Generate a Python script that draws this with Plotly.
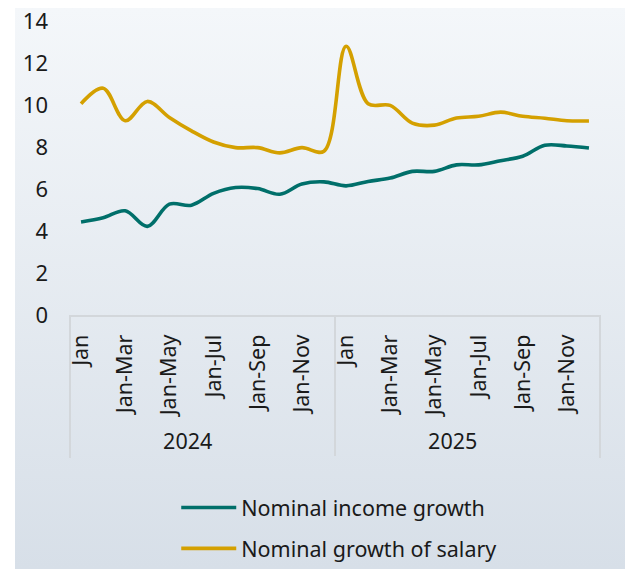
import base64
import plotly.graph_objects as go

# Cumulative periods within each year
years = ["2024", "2025"]
periods = ["Jan", "Jan-Feb", "Jan-Mar", "Jan-Apr", "Jan-May", "Jan-Jun",
           "Jan-Jul", "Jan-Aug", "Jan-Sep", "Jan-Oct", "Jan-Nov", "Jan-Dec"]

# Year-on-year growth, %
income_growth = [4.43, 4.63, 4.96, 4.22, 5.28, 5.23, 5.79, 6.07, 6.02, 5.75, 6.24, 6.34,
                 6.15, 6.36, 6.52, 6.84, 6.84, 7.15, 7.15, 7.35, 7.56, 8.08, 8.05, 7.95]
salary_growth = [10.06, 10.8, 9.25, 10.17, 9.41, 8.77, 8.24, 7.97, 7.97, 7.72, 7.97, 7.8,
                 12.8, 10.06, 9.98, 9.14, 9.04, 9.38, 9.46, 9.66, 9.46, 9.37, 9.25, 9.24]

y_ticks = [0, 2, 4, 6, 8, 10, 12, 14]

x_year = [y for y in years for _ in periods]
x_period = [p for _ in years for p in periods]
n_cat = len(x_period)

FONT = "Noto Sans"
TEAL = "#006f6a"
GOLD = "#d4a000"
RULE = "#d3d7db"
INK = "#1a1a1a"

fig = go.Figure()
fig.add_trace(go.Scatter(
    x=[x_year, x_period], y=income_growth, name="Nominal income growth",
    legendgroup="income",
    mode="lines", line=dict(color=TEAL, width=3.6, shape="spline", smoothing=1.0),
))
fig.add_trace(go.Scatter(
    x=[x_year, x_period], y=salary_growth, name="Nominal growth of salary",
    legendgroup="salary",
    mode="lines", line=dict(color=GOLD, width=3.6, shape="spline", smoothing=1.0),
))

# Soft vertical gradient panel behind the chart
svg = ("<svg xmlns='http://www.w3.org/2000/svg' width='100' height='100' "
       "viewBox='0 0 100 100' preserveAspectRatio='none'>"
       "<defs><linearGradient id='g' x1='0' y1='0' x2='0' y2='1'>"
       "<stop offset='0' stop-color='#f4f7fa'/>"
       "<stop offset='1' stop-color='#d7dfe8'/>"
       "</linearGradient></defs>"
       "<rect width='100' height='100' fill='url(#g)'/></svg>")
src = "data:image/svg+xml;base64," + base64.b64encode(svg.encode()).decode()

W, H = 625, 569
L, R, T, B = 70, 25, 21, 254
pw, ph = W - L - R, H - T - B
px0, py0 = 15, 8  # panel top-left corner in pixels

fig.add_layout_image(dict(
    source=src, xref="paper", yref="paper",
    x=(px0 - L) / pw, y=1 + (T - py0) / ph,
    sizex=(W - px0) / pw, sizey=(H - py0) / ph,
    xanchor="left", yanchor="top", sizing="stretch", layer="below",
))

# Outer edges of the category box
box_bottom = -(458 - (T + ph)) / ph
for xe in (0, 1):
    fig.add_shape(type="line", xref="paper", yref="paper",
                  x0=xe, x1=xe, y0=0, y1=box_bottom,
                  line=dict(color=RULE, width=2), layer="below")

fig.update_layout(
    width=W, height=H,
    margin=dict(l=L, r=R, t=T, b=B, autoexpand=False),
    paper_bgcolor="white",
    plot_bgcolor="rgba(0,0,0,0)",
    font=dict(family=FONT, size=21.5, color=INK),
    showlegend=True,
    legend=dict(
        orientation="v", x=0.508, xanchor="center", y=-0.585, yanchor="top",
        font=dict(family=FONT, size=21.5, color=INK),
        bgcolor="rgba(0,0,0,0)", itemwidth=55, tracegroupgap=10,
    ),
)
fig.update_xaxes(
    type="multicategory", range=[-0.5, n_cat - 0.5],
    tickangle=-90, tickmode="linear", tick0=0, dtick=2,
    showline=True, linecolor=RULE, linewidth=2,
    showdividers=True, dividercolor=RULE, dividerwidth=2,
    ticks="", showgrid=False, zeroline=False, ticklabelstandoff=9,
    tickfont=dict(family=FONT, size=21.5, color=INK),
)
fig.update_yaxes(
    range=[0, 14], tickmode="array", tickvals=y_ticks,
    showgrid=False, zeroline=False, showline=False, ticks="",
    ticklabelstandoff=21,
    tickfont=dict(family=FONT, size=22, color=INK),
)

fig.write_html("out.html")
